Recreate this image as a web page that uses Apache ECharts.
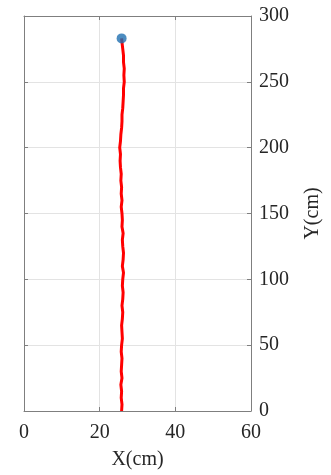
<!DOCTYPE html>
<html>
<head>
<meta charset="utf-8">
<script src="https://cdn.jsdelivr.net/npm/echarts@6/dist/echarts.min.js"></script>
<style>
  html, body { margin: 0; padding: 0; background: #fff; }
  #chart { width: 331px; height: 475px; }
</style>
</head>
<body>
<div id="chart"></div>
<script>
// Walked trajectory (cm)
const trackY = [0, 5, 10, 15, 20, 25, 30, 35, 40, 45, 50, 55, 60, 65, 70, 75, 80, 85, 90, 95,
  100, 105, 110, 115, 120, 125, 130, 135, 140, 145, 150, 155, 160, 165, 170, 175, 180, 185, 190, 195,
  200, 205, 210, 215, 220, 225, 230, 235, 240, 245, 250, 255, 260, 265, 270, 275, 280, 283];
const trackX = [25.8, 25.9, 25.7, 25.8, 25.6, 25.9, 25.7, 25.8, 25.9, 25.7, 25.8, 26.0, 25.9, 25.8, 26.0, 26.1, 25.9, 26.1, 26.2, 26.0,
  26.1, 26.3, 26.0, 26.2, 26.3, 26.1, 26.0, 26.2, 25.9, 26.0, 25.9, 25.7, 25.9, 25.7, 25.8, 25.6, 25.7, 25.5, 25.4, 25.5,
  25.3, 25.5, 25.6, 25.8, 25.9, 25.9, 26.1, 26.2, 26.3, 26.3, 26.5, 26.4, 26.5, 26.3, 26.3, 26.1, 25.9, 25.8];
// End point marker
const endX = [25.8];
const endY = [283];

const xTicks = { min: 0, max: 60, interval: 20 };
const yTicks = { min: 0, max: 300, interval: 50 };

const font = 'Liberation Serif, Times New Roman, serif';
const axisColor = '#7f7f7f';
const textColor = '#262626';

const chart = echarts.init(document.getElementById('chart'), null, { renderer: 'canvas' });

const baseAxis = {
  axisLine: { show: true, onZero: false, lineStyle: { color: axisColor, width: 1 } },
  axisTick: { show: true, inside: true, length: 4, lineStyle: { color: axisColor } },
  splitLine: { show: false },
  axisLabel: { show: false }
};

chart.setOption({
  animation: false,
  grid: { left: 24, right: 74, top: 16, bottom: 57, containLabel: false },
  xAxis: [
    Object.assign({}, baseAxis, {
      type: 'value', position: 'bottom', min: xTicks.min, max: xTicks.max, interval: xTicks.interval,
      splitLine: { show: true, lineStyle: { color: '#e3e3e3', width: 1 } },
      axisLabel: { show: true, fontFamily: font, fontSize: 20, color: textColor, margin: 12 },
      name: 'X(cm)', nameLocation: 'middle', nameGap: 39,
      nameTextStyle: { fontFamily: font, fontSize: 20, color: textColor }
    }),
    Object.assign({}, baseAxis, {
      type: 'value', position: 'top', min: xTicks.min, max: xTicks.max, interval: xTicks.interval
    })
  ],
  yAxis: [
    Object.assign({}, baseAxis, {
      type: 'value', position: 'right', min: yTicks.min, max: yTicks.max, interval: yTicks.interval,
      splitLine: { show: true, lineStyle: { color: '#e3e3e3', width: 1 } },
      axisLabel: { show: true, fontFamily: font, fontSize: 20, color: textColor, margin: 8 },
      name: 'Y(cm)', nameLocation: 'middle', nameGap: 52, nameRotate: 90,
      nameTextStyle: { fontFamily: font, fontSize: 20, color: textColor }
    }),
    Object.assign({}, baseAxis, {
      type: 'value', position: 'left', min: yTicks.min, max: yTicks.max, interval: yTicks.interval
    })
  ],
  series: [
    {
      type: 'line',
      xAxisIndex: 0, yAxisIndex: 0,
      data: trackX.map((x, i) => [x, trackY[i]]),
      showSymbol: false,
      smooth: false,
      lineStyle: { color: '#ff0000', width: 3 },
      z: 2
    },
    {
      type: 'scatter',
      xAxisIndex: 0, yAxisIndex: 0,
      data: endX.map((x, i) => [x, endY[i]]),
      symbolSize: 10,
      itemStyle: { color: '#1f6fb0' },
      z: 3
    }
  ]
});
</script>
</body>
</html>
